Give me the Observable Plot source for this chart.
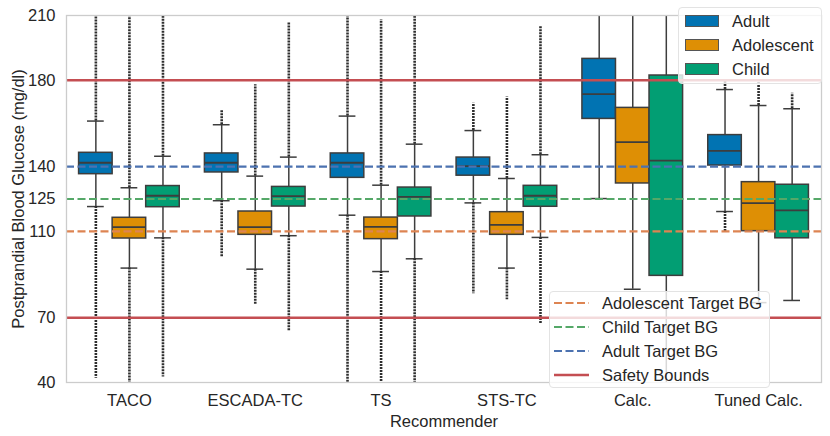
<!DOCTYPE html>
<html><head><meta charset="utf-8">
<script src="https://cdn.jsdelivr.net/npm/d3@7"></script>
<script src="https://cdn.jsdelivr.net/npm/@observablehq/plot@0.6"></script>
<style>
body{margin:0;background:#fff;font-family:"Liberation Sans",Arial,sans-serif;}
#wrap{position:relative;width:830px;height:436px;}
.legend{position:absolute;background:rgba(255,255,255,0.8);border:1px solid #e3e3e3;border-radius:4px;font-size:16.5px;color:#262626;box-sizing:border-box;}
.patch{position:absolute;width:34px;height:12px;border:1px solid #555;box-sizing:border-box;}
.lab{position:absolute;white-space:nowrap;}
.ln{position:absolute;}
</style></head><body><div id="wrap"></div><script>
const recommenders = ["TACO","ESCADA-TC","TS","STS-TC","Calc.","Tuned Calc."];
const groups = ["Adult","Adolescent","Child"];
const groupColors = ["#0173b2","#de8f05","#029e73"];
const yTicks = [40,70,110,125,140,180,210];

// rows: Adult, Adolescent, Child; columns follow recommenders
const q1 = [
  [136.5,137.3,134.8,135.8,162.1,140.5],
  [106.7,108.4,106.4,108.4,132.2,110.1],
  [121.2,121.5,116.9,121.4,89.4,106.8]
];
const median = [
  [141.8,141.8,141.8,140.2,173.6,147.3],
  [112.0,112.0,112.1,113.0,151.3,123.1],
  [126.5,126.3,126.0,126.5,142.8,119.7]
];
const q3 = [
  [146.4,146.1,146.1,144.2,189.9,154.6],
  [116.3,119.2,116.4,118.9,167.2,132.8],
  [131.0,130.6,130.3,131.1,182.2,131.6]
];
const whiskerLow = [
  [121.5,124.2,117.5,123.2,125.2,119.2],
  [93.0,92.5,91.4,93.0,83.2,77.0],
  [107.0,108.0,97.3,107.2,30.0,78.0]
];
const whiskerHigh = [
  [161.1,159.4,163.4,156.7,225.0,175.7],
  [130.2,135.6,131.4,134.5,225.0,168.3],
  [144.8,144.4,150.4,145.5,225.0,166.8]
];
// extent of outlier points beyond the whiskers (null = none)
const outlierMin = [
  [42.0,98.1,40.0,81.1,null,109.6],
  [40.0,76.1,40.0,78.3,null,null],
  [42.5,63.6,40.0,67.2,null,null]
];
const outlierMax = [
  [210.0,166.3,210.0,169.4,null,179.9],
  [210.0,177.9,208.0,172.2,null,179.0],
  [210.0,207.0,210.0,205.0,null,174.0]
];

const refLines = [
  {label:"Adolescent Target BG", value:110, color:"#dd8452"},
  {label:"Child Target BG", value:125, color:"#55a868"},
  {label:"Adult Target BG", value:140, color:"#4c72b0"}
];
const safetyBounds = [70,180];
const safetyColor = "#c44e52";

const rows = [];
recommenders.forEach((r, ri) => groups.forEach((g, gi) => {
  rows.push({r, g, xc: ri + (gi - 1) * 0.8 / 3, q1: q1[gi][ri], med: median[gi][ri], q3: q3[gi][ri],
    wlo: whiskerLow[gi][ri], whi: whiskerHigh[gi][ri], omin: outlierMin[gi][ri], omax: outlierMax[gi][ri]});
}));
const hw = 0.4 / 3;       // half box width
const cw = hw / 2;        // half cap width
const edge = "#3d3d3d";
const lowOut = rows.filter(d => d.omin != null);
const highOut = rows.filter(d => d.omax != null);

const chart = Plot.plot({
  width: 830, height: 436,
  marginTop: 15, marginBottom: 54, marginLeft: 66, marginRight: 9,
  style: {fontSize: "16.5px", fontFamily: "Liberation Sans, Arial, sans-serif", color: "#262626", background: "#fff", overflow: "visible"},
  x: {domain: [-0.5, 5.5]},
  y: {domain: [40, 210]},
  color: {domain: groups, range: groupColors},
  marks: [
    Plot.ruleX(rows, {x: "xc", y1: "q3", y2: "whi", stroke: edge, strokeWidth: 1.5, clip: true}),
    Plot.ruleX(rows, {x: "xc", y1: "q1", y2: "wlo", stroke: edge, strokeWidth: 1.5, clip: true}),
    Plot.ruleY(rows, {y: "whi", x1: d => d.xc - cw, x2: d => d.xc + cw, stroke: edge, strokeWidth: 1.5, clip: true}),
    Plot.ruleY(rows, {y: "wlo", x1: d => d.xc - cw, x2: d => d.xc + cw, stroke: edge, strokeWidth: 1.5, clip: true}),
    Plot.ruleX(lowOut, {x: "xc", y1: "wlo", y2: "omin", stroke: "#2e2e2e", strokeWidth: 2.6, strokeDasharray: "2,1", clip: true}),
    Plot.ruleX(highOut, {x: "xc", y1: "whi", y2: "omax", stroke: "#2e2e2e", strokeWidth: 2.6, strokeDasharray: "2,1", clip: true}),
    Plot.rect(rows, {x1: d => d.xc - hw, x2: d => d.xc + hw, y1: "q1", y2: "q3", fill: "g", stroke: edge, strokeWidth: 1.5, clip: true}),
    Plot.ruleY(rows, {y: "med", x1: d => d.xc - hw, x2: d => d.xc + hw, stroke: edge, strokeWidth: 1.8, clip: true}),
    Plot.ruleY(refLines, {y: "value", stroke: "color", strokeWidth: 2.2, strokeDasharray: "8,3.5"}),
    Plot.ruleY(safetyBounds, {stroke: safetyColor, strokeWidth: 2.4}),
    Plot.frame({stroke: "#cccccc", strokeWidth: 1.3}),
    Plot.axisY({ticks: yTicks, tickSize: 0, tickPadding: 11, label: null}),
    Plot.axisX({ticks: d3.range(recommenders.length), tickFormat: i => recommenders[i], tickSize: 0, tickPadding: 12, label: null}),
    Plot.text(["Recommender"], {frameAnchor: "bottom", dy: 39, lineAnchor: "middle", textAnchor: "middle", fill: "#262626"}),
    Plot.text(["Postprandial Blood Glucose (mg/dl)"], {frameAnchor: "left", dx: -48, rotate: -90, lineAnchor: "middle", textAnchor: "middle", fill: "#262626"})
  ]
});
const wrap = document.getElementById("wrap");
wrap.appendChild(chart);

// hue legend (top right)
const hl = document.createElement("div");
hl.className = "legend";
Object.assign(hl.style, {left: "678px", top: "7px", width: "144px", height: "77px"});
groups.forEach((g, i) => {
  const p = document.createElement("div");
  p.className = "patch";
  Object.assign(p.style, {left: "6px", top: (7 + i * 24) + "px", background: groupColors[i]});
  hl.appendChild(p);
  const t = document.createElement("div");
  t.className = "lab";
  t.textContent = g;
  Object.assign(t.style, {left: "53px", top: (1 + i * 24) + "px", lineHeight: "24px"});
  hl.appendChild(t);
});
wrap.appendChild(hl);

// line legend (bottom right)
const ll = document.createElement("div");
ll.className = "legend";
Object.assign(ll.style, {left: "549px", top: "291px", width: "221px", height: "97px"});
const lineItems = refLines.map(d => ({label: d.label, color: d.color, dash: true}))
  .concat([{label: "Safety Bounds", color: safetyColor, dash: false}]);
const NS = "http://www.w3.org/2000/svg";
lineItems.forEach((d, i) => {
  const y = 11 + i * 24;
  const s = document.createElementNS(NS, "svg");
  s.setAttribute("width", "40"); s.setAttribute("height", "6");
  s.setAttribute("class", "ln");
  s.style.left = "2px"; s.style.top = (y - 3) + "px";
  const l = document.createElementNS(NS, "line");
  l.setAttribute("x1", "2"); l.setAttribute("x2", "37"); l.setAttribute("y1", "3"); l.setAttribute("y2", "3");
  l.setAttribute("stroke", d.color);
  l.setAttribute("stroke-width", d.dash ? "2.2" : "2.6");
  if (d.dash) l.setAttribute("stroke-dasharray", "8,3.5");
  s.appendChild(l);
  ll.appendChild(s);
  const t = document.createElement("div");
  t.className = "lab";
  t.textContent = d.label;
  Object.assign(t.style, {left: "52px", top: (y - 12) + "px", lineHeight: "24px"});
  ll.appendChild(t);
});
wrap.appendChild(ll);
</script></body></html>
